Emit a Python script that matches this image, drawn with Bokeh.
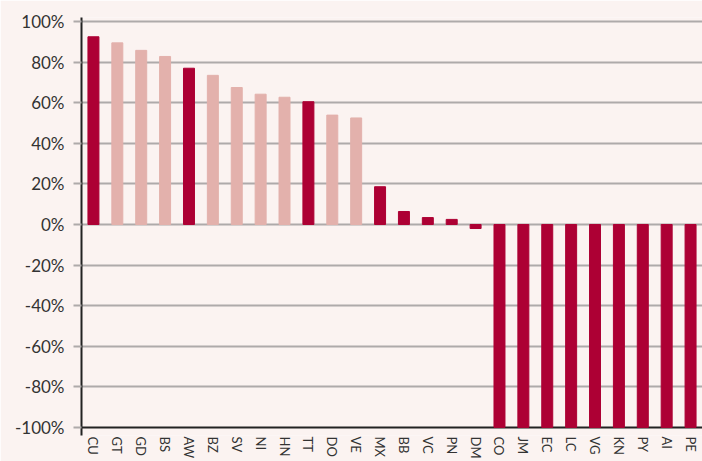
from bokeh.plotting import figure
from bokeh.models import Range1d, FixedTicker, PrintfTickFormatter, Grid, ColumnDataSource
from bokeh.embed import file_html
from bokeh.resources import INLINE

countries = ["CU", "GT", "GD", "BS", "AW", "BZ", "SV", "NI", "HN", "TT", "DO", "VE", "MX",
             "BB", "VC", "PN", "DM", "CO", "JM", "EC", "LC", "VG", "KN", "PY", "AI", "PE"]
values = [92.5, 89.5, 85.8, 82.8, 77.0, 73.5, 67.5, 64.2, 62.7, 60.5, 53.9, 52.5, 18.6,
          6.4, 3.4, 2.5, -2.0, -100, -100, -100, -100, -100, -100, -100, -100, -100]
light_group = ["GT", "GD", "BS", "BZ", "SV", "NI", "HN", "DO", "VE"]
y_ticks = [-100, -80, -60, -40, -20, 0, 20, 40, 60, 80, 100]

DARK = "#ad0034"
LIGHT = "#e3b1ac"
BG = "#fbf3f1"
GRID = "#aeaaaa"

colors = [LIGHT if c in light_group else DARK for c in countries]
src = ColumnDataSource(dict(x=countries, top=values, color=colors))

p = figure(x_range=countries, y_range=Range1d(-104, 102), width=702, height=461,
           output_backend="svg", toolbar_location=None,
           min_border_left=81, min_border_right=0, min_border_top=17, min_border_bottom=24)
p.x_range.range_padding = 0
p.background_fill_color = BG
p.border_fill_color = BG
p.outline_line_color = None

p.vbar(x="x", top="top", bottom=0, width=0.46, color="color", source=src)

ticker = FixedTicker(ticks=y_ticks)
p.yaxis.ticker = ticker
p.yaxis.formatter = PrintfTickFormatter(format="%d%%")
p.yaxis.axis_line_color = "#222222"
p.yaxis.axis_line_width = 2
p.yaxis.major_tick_line_color = GRID
p.yaxis.major_tick_line_width = 2
p.yaxis.major_tick_out = 8
p.yaxis.major_tick_in = 0
p.yaxis.minor_tick_line_color = None
p.yaxis.major_label_standoff = 9
p.yaxis.major_label_text_font = "Lato"
p.yaxis.major_label_text_font_size = "17px"
p.yaxis.major_label_text_color = "#333333"

p.xgrid.grid_line_color = None
p.ygrid.ticker = FixedTicker(ticks=[t for t in y_ticks if t != y_ticks[0]])
p.ygrid.grid_line_color = GRID
p.ygrid.grid_line_width = 2

base = Grid(dimension=1, ticker=FixedTicker(ticks=[y_ticks[0]]),
            grid_line_color="#222222", grid_line_width=2)
p.add_layout(base)

p.xaxis.axis_line_color = None
p.xaxis.major_tick_line_color = None
p.xaxis.minor_tick_line_color = None
p.xaxis.major_tick_out = 0
p.xaxis.major_tick_in = 0
p.xaxis.major_label_orientation = "vertical"
p.xaxis.major_label_standoff = 1
p.xaxis.major_label_text_font = "Lato"
p.xaxis.major_label_text_font_size = "13px"
p.xaxis.major_label_text_color = "#333333"

open("out.html", "w").write(file_html(p, INLINE))
